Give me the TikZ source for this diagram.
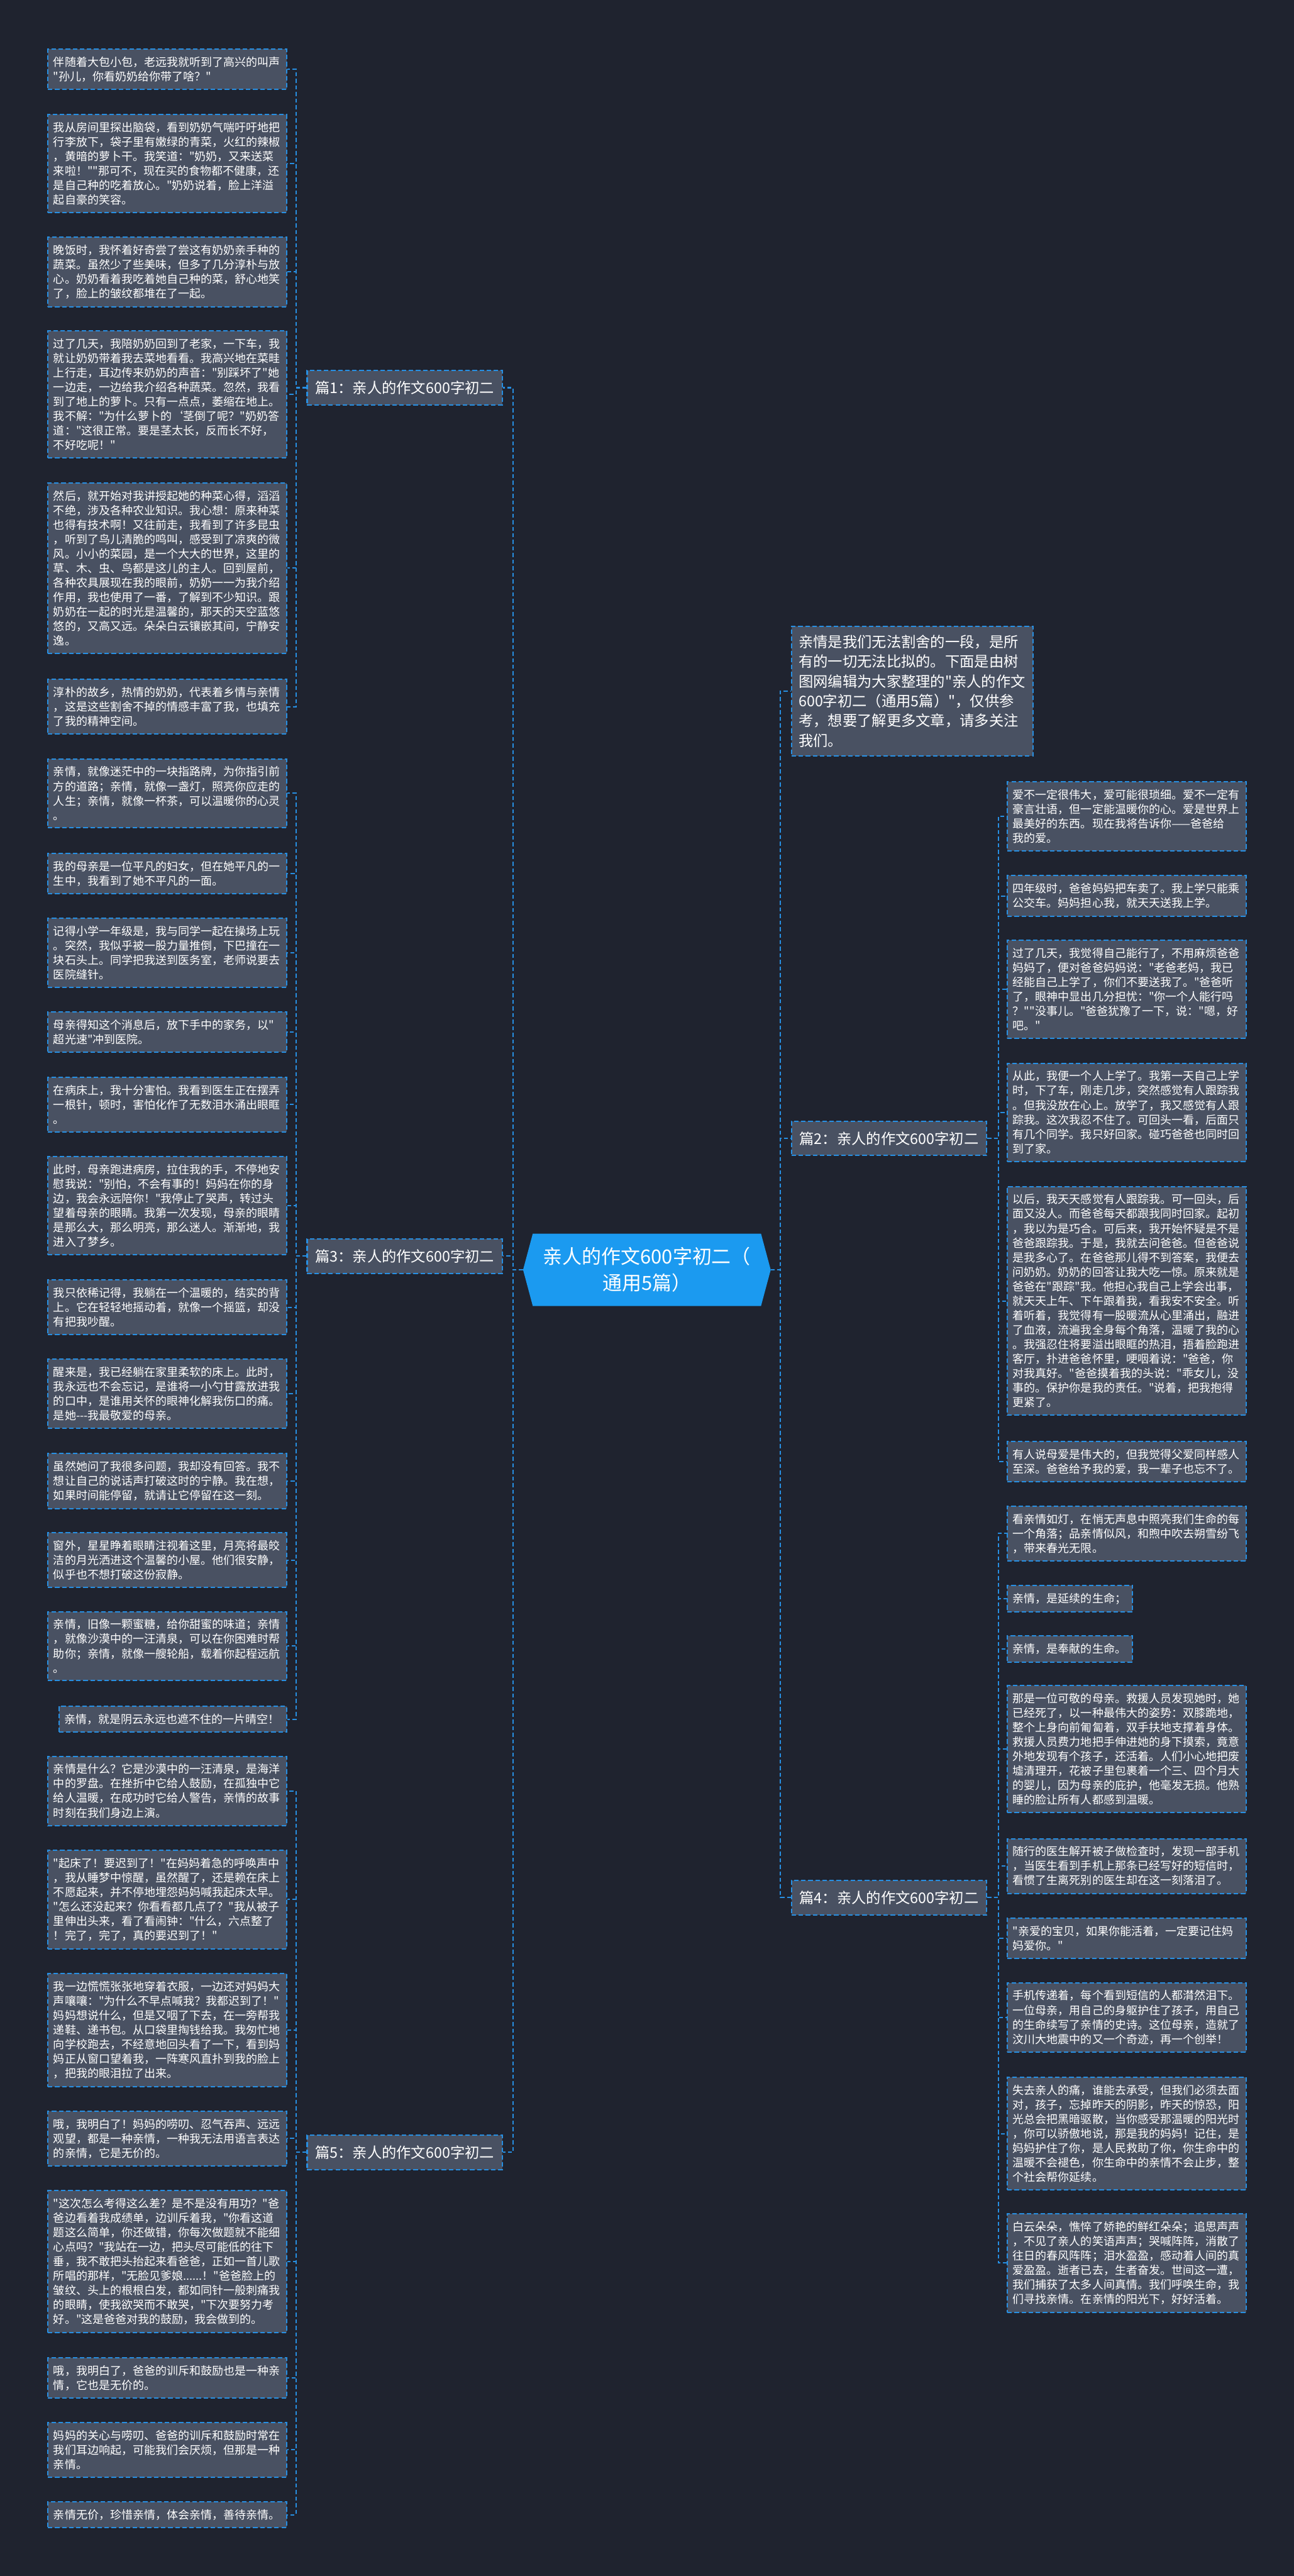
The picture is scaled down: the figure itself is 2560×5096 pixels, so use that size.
\documentclass[tikz,border=0pt]{standalone}
\usepackage{fontspec}
\newfontfamily\cjk{Noto Sans CJK SC}
\usepackage{tikz}
\definecolor{bgnavy}{RGB}{31,35,47}
\definecolor{boxgray}{RGB}{73,81,98}
\definecolor{linkblue}{RGB}{39,143,226}
\definecolor{rootblue}{RGB}{27,154,240}
\usetikzlibrary{shapes.symbols}

\begin{document}
\begin{tikzpicture}[x=1pt, y=-1pt,
    leaf/.style={draw=linkblue, fill=boxgray, line width=2.5pt,
                 dash pattern=on 9pt off 5pt, text=white, align=left,
                 text width=#1, inner xsep=11pt, inner ysep=15pt,
                 font=\cjk\fontsize{22.4pt}{28.7pt}\selectfont},
    leaf/.default=450pt,
    branch/.style={draw=linkblue, fill=boxgray, line width=2.5pt,
                   dash pattern=on 9pt off 5pt, text=white,
                   minimum width=386pt, minimum height=68pt,
                   font=\cjk\fontsize{29pt}{39pt}\selectfont},
    link/.style={draw=linkblue, line width=2.5pt, dash pattern=on 8pt off 5pt}
]
    \useasboundingbox (0,0) rectangle (2560,5096);
    \fill[bgnavy] (0,0) rectangle (2560,5096);

    \node[signal, signal to=west and east, signal pointer angle=150,
          fill=rootblue, text=white, align=center,
          minimum width=490pt, minimum height=143pt,
          font=\cjk\fontsize{38.5pt}{52.5pt}\selectfont]
          (root) at (1280,2512) {亲人的作文600字初二（\\通用5篇）};

    \node[leaf, inner xsep=14pt, inner ysep=17pt, anchor=north west,
          font=\cjk\fontsize{29pt}{39pt}\selectfont] (intro) at (1565,1238) {
        亲情是我们无法割舍的一段，是所\\有的一切无法比拟的。下面是由树\\图网编辑为大家整理的"亲人的作文\\600字初二（通用5篇）"，仅供参\\考，想要了解更多文章，请多关注\\我们。};

    \node[branch, anchor=east] (p1) at (995,767) {篇1：亲人的作文600字初二};
    \node[branch, anchor=west] (p2) at (1565,2252) {篇2：亲人的作文600字初二};
    \node[branch, anchor=east] (p3) at (995,2485) {篇3：亲人的作文600字初二};
    \node[branch, anchor=west] (p4) at (1565,3754) {篇4：亲人的作文600字初二};
    \node[branch, anchor=east] (p5) at (995,4258) {篇5：亲人的作文600字初二};

    % 篇1
    \node[leaf, anchor=north east] (p1a) at (568,96) {
        伴随着大包小包，老远我就听到了高兴的叫声\\"孙儿，你看奶奶给你带了啥？"};
    \node[leaf, anchor=north east] (p1b) at (568,225) {
        我从房间里探出脑袋，看到奶奶气喘吁吁地把\\行李放下，袋子里有嫩绿的青菜，火红的辣椒\\，黄暗的萝卜干。我笑道："奶奶，又来送菜\\来啦！""那可不，现在买的食物都不健康，还\\是自己种的吃着放心。"奶奶说着，脸上洋溢\\起自豪的笑容。};
    \node[leaf, anchor=north east] (p1c) at (568,468) {
        晚饭时，我怀着好奇尝了尝这有奶奶亲手种的\\蔬菜。虽然少了些美味，但多了几分淳朴与放\\心。奶奶看着我吃着她自己种的菜，舒心地笑\\了，脸上的皱纹都堆在了一起。};
    \node[leaf, anchor=north east] (p1d) at (568,653) {
        过了几天，我陪奶奶回到了老家，一下车，我\\就让奶奶带着我去菜地看看。我高兴地在菜畦\\上行走，耳边传来奶奶的声音："别踩坏了"她\\一边走，一边给我介绍各种蔬菜。忽然，我看\\到了地上的萝卜。只有一点点，萎缩在地上。\\我不解："为什么萝卜的‘茎倒了呢？"奶奶答\\道："这很正常。要是茎太长，反而长不好，\\不好吃呢！"};
    \node[leaf, anchor=north east] (p1e) at (568,954) {
        然后，就开始对我讲授起她的种菜心得，滔滔\\不绝，涉及各种农业知识。我心想：原来种菜\\也得有技术啊！又往前走，我看到了许多昆虫\\，听到了鸟儿清脆的鸣叫，感受到了凉爽的微\\风。小小的菜园，是一个大大的世界，这里的\\草、木、虫、鸟都是这儿的主人。回到屋前，\\各种农具展现在我的眼前，奶奶一一为我介绍\\作用，我也使用了一番，了解到不少知识。跟\\奶奶在一起的时光是温馨的，那天的天空蓝悠\\悠的，又高又远。朵朵白云镶嵌其间，宁静安\\逸。};
    \node[leaf, anchor=north east] (p1f) at (568,1343) {
        淳朴的故乡，热情的奶奶，代表着乡情与亲情\\，这是这些割舍不掉的情感丰富了我，也填充\\了我的精神空间。};

    % 篇3
    \node[leaf, anchor=north east] (p3a) at (568,1500) {
        亲情，就像迷茫中的一块指路牌，为你指引前\\方的道路；亲情，就像一盏灯，照亮你应走的\\人生；亲情，就像一杯茶，可以温暖你的心灵\\。};
    \node[leaf, anchor=north east] (p3b) at (568,1687) {
        我的母亲是一位平凡的妇女，但在她平凡的一\\生中，我看到了她不平凡的一面。};
    \node[leaf, anchor=north east] (p3c) at (568,1815) {
        记得小学一年级是，我与同学一起在操场上玩\\。突然，我似乎被一股力量推倒，下巴撞在一\\块石头上。同学把我送到医务室，老师说要去\\医院缝针。};
    \node[leaf, anchor=north east] (p3d) at (568,2001) {
        母亲得知这个消息后，放下手中的家务，以"\\超光速"冲到医院。};
    \node[leaf, anchor=north east] (p3e) at (568,2130) {
        在病床上，我十分害怕。我看到医生正在摆弄\\一根针，顿时，害怕化作了无数泪水涌出眼眶\\。};
    \node[leaf, anchor=north east] (p3f) at (568,2287) {
        此时，母亲跑进病房，拉住我的手，不停地安\\慰我说："别怕，不会有事的！妈妈在你的身\\边，我会永远陪你！"我停止了哭声，转过头\\望着母亲的眼睛。我第一次发现，母亲的眼睛\\是那么大，那么明亮，那么迷人。渐渐地，我\\进入了梦乡。};
    \node[leaf, anchor=north east] (p3g) at (568,2531) {
        我只依稀记得，我躺在一个温暖的，结实的背\\上。它在轻轻地摇动着，就像一个摇篮，却没\\有把我吵醒。};
    \node[leaf, anchor=north east] (p3h) at (568,2687) {
        醒来是，我已经躺在家里柔软的床上。此时，\\我永远也不会忘记，是谁将一小勺甘露放进我\\的口中，是谁用关怀的眼神化解我伤口的痛。\\是她-{}-{}-我最敬爱的母亲。};
    \node[leaf, anchor=north east] (p3i) at (568,2874) {
        虽然她问了我很多问题，我却没有回答。我不\\想让自己的说话声打破这时的宁静。我在想，\\如果时间能停留，就请让它停留在这一刻。};
    \node[leaf, anchor=north east] (p3j) at (568,3031) {
        窗外，星星睁着眼睛注视着这里，月亮将最皎\\洁的月光洒进这个温馨的小屋。他们很安静，\\似乎也不想打破这份寂静。};
    \node[leaf, anchor=north east] (p3k) at (568,3187) {
        亲情，旧像一颗蜜糖，给你甜蜜的味道；亲情\\，就像沙漠中的一汪清泉，可以在你困难时帮\\助你；亲情，就像一艘轮船，载着你起程远航\\。};
    \node[leaf=428pt, anchor=north east] (p3l) at (568,3374) {
        亲情，就是阴云永远也遮不住的一片晴空！};

    % 篇5
    \node[leaf, anchor=north east] (p5a) at (568,3473) {
        亲情是什么？它是沙漠中的一汪清泉，是海洋\\中的罗盘。在挫折中它给人鼓励，在孤独中它\\给人温暖，在成功时它给人警告，亲情的故事\\时刻在我们身边上演。};
    \node[leaf, anchor=north east] (p5b) at (568,3659) {
        "起床了！要迟到了！"在妈妈着急的呼唤声中\\，我从睡梦中惊醒，虽然醒了，还是赖在床上\\不愿起来，并不停地埋怨妈妈喊我起床太早。\\"怎么还没起来？你看看都几点了？"我从被子\\里伸出头来，看了看闹钟："什么，六点整了\\！完了，完了，真的要迟到了！"};
    \node[leaf, anchor=north east] (p5c) at (568,3903) {
        我一边慌慌张张地穿着衣服，一边还对妈妈大\\声嚷嚷："为什么不早点喊我？我都迟到了！"\\妈妈想说什么，但是又咽了下去，在一旁帮我\\递鞋、递书包。从口袋里掏钱给我。我匆忙地\\向学校跑去，不经意地回头看了一下，看到妈\\妈正从窗口望着我，一阵寒风直扑到我的脸上\\，把我的眼泪拉了出来。};
    \node[leaf, anchor=north east] (p5d) at (568,4175) {
        哦，我明白了！妈妈的唠叨、忍气吞声、远远\\观望，都是一种亲情，一种我无法用语言表达\\的亲情，它是无价的。};
    \node[leaf, anchor=north east] (p5e) at (568,4332) {
        "这次怎么考得这么差？是不是没有用功？"爸\\爸边看着我成绩单，边训斥着我，"你看这道\\题这么简单，你还做错，你每次做题就不能细\\心点吗？"我站在一边，把头尽可能低的往下\\垂，我不敢把头抬起来看爸爸，正如一首儿歌\\所唱的那样，"无脸见爹娘......！"爸爸脸上的\\皱纹、头上的根根白发，都如同针一般刺痛我\\的眼睛，使我欲哭而不敢哭，"下次要努力考\\好。"这是爸爸对我的鼓励，我会做到的。};
    \node[leaf, anchor=north east] (p5f) at (568,4663) {
        哦，我明白了，爸爸的训斥和鼓励也是一种亲\\情，它也是无价的。};
    \node[leaf, anchor=north east] (p5g) at (568,4791) {
        妈妈的关心与唠叨、爸爸的训斥和鼓励时常在\\我们耳边响起，可能我们会厌烦，但那是一种\\亲情。};
    \node[leaf, anchor=north east] (p5h) at (568,4948) {
        亲情无价，珍惜亲情，体会亲情，善待亲情。};

    % 篇2
    \node[leaf, anchor=north west] (p2a) at (1992,1545) {
        爱不一定很伟大，爱可能很琐细。爱不一定有\\豪言壮语，但一定能温暖你的心。爱是世界上\\最美好的东西。现在我将告诉你——爸爸给\\我的爱。};
    \node[leaf, anchor=north west] (p2b) at (1992,1731) {
        四年级时，爸爸妈妈把车卖了。我上学只能乘\\公交车。妈妈担心我，就天天送我上学。};
    \node[leaf, anchor=north west] (p2c) at (1992,1859) {
        过了几天，我觉得自己能行了，不用麻烦爸爸\\妈妈了，便对爸爸妈妈说："老爸老妈，我已\\经能自己上学了，你们不要送我了。"爸爸听\\了，眼神中显出几分担忧："你一个人能行吗\\？""没事儿。"爸爸犹豫了一下，说："嗯，好\\吧。"};
    \node[leaf, anchor=north west] (p2d) at (1992,2102) {
        从此，我便一个人上学了。我第一天自己上学\\时，下了车，刚走几步，突然感觉有人跟踪我\\。但我没放在心上。放学了，我又感觉有人跟\\踪我。这次我忍不住了。可回头一看，后面只\\有几个同学。我只好回家。碰巧爸爸也同时回\\到了家。};
    \node[leaf, anchor=north west] (p2e) at (1992,2346) {
        以后，我天天感觉有人跟踪我。可一回头，后\\面又没人。而爸爸每天都跟我同时回家。起初\\，我以为是巧合。可后来，我开始怀疑是不是\\爸爸跟踪我。于是，我就去问爸爸。但爸爸说\\是我多心了。在爸爸那儿得不到答案，我便去\\问奶奶。奶奶的回答让我大吃一惊。原来就是\\爸爸在"跟踪"我。他担心我自己上学会出事，\\就天天上午、下午跟着我，看我安不安全。听\\着听着，我觉得有一股暖流从心里涌出，融进\\了血液，流遍我全身每个角落，温暖了我的心\\。我强忍住将要溢出眼眶的热泪，捂着脸跑进\\客厅，扑进爸爸怀里，哽咽着说："爸爸，你\\对我真好。"爸爸摸着我的头说："乖女儿，没\\事的。保护你是我的责任。"说着，把我抱得\\更紧了。};
    \node[leaf, anchor=north west] (p2f) at (1992,2850) {
        有人说母爱是伟大的，但我觉得父爱同样感人\\至深。爸爸给予我的爱，我一辈子也忘不了。};

    % 篇4
    \node[leaf, anchor=north west] (p4a) at (1992,2978) {
        看亲情如灯，在悄无声息中照亮我们生命的每\\一个角落；品亲情似风，和煦中吹去朔雪纷飞\\，带来春光无限。};
    \node[leaf=226pt, anchor=north west] (p4b) at (1992,3135) {亲情，是延续的生命；};
    \node[leaf=226pt, anchor=north west] (p4c) at (1992,3235) {亲情，是奉献的生命。};
    \node[leaf, anchor=north west] (p4d) at (1992,3333) {
        那是一位可敬的母亲。救援人员发现她时，她\\已经死了，以一种最伟大的姿势：双膝跪地，\\整个上身向前匍匐着，双手扶地支撑着身体。\\救援人员费力地把手伸进她的身下摸索，竟意\\外地发现有个孩子，还活着。人们小心地把废\\墟清理开，花被子里包裹着一个三、四个月大\\的婴儿，因为母亲的庇护，他毫发无损。他熟\\睡的脸让所有人都感到温暖。};
    \node[leaf, anchor=north west] (p4e) at (1992,3636) {
        随行的医生解开被子做检查时，发现一部手机\\，当医生看到手机上那条已经写好的短信时，\\看惯了生离死别的医生却在这一刻落泪了。};
    \node[leaf, anchor=north west] (p4f) at (1992,3793) {
        "亲爱的宝贝，如果你能活着，一定要记住妈\\妈爱你。"};
    \node[leaf, anchor=north west] (p4g) at (1992,3921) {
        手机传递着，每个看到短信的人都潸然泪下。\\一位母亲，用自己的身躯护住了孩子，用自己\\的生命续写了亲情的史诗。这位母亲，造就了\\汶川大地震中的又一个奇迹，再一个创举！};
    \node[leaf, anchor=north west] (p4h) at (1992,4108) {
        失去亲人的痛，谁能去承受，但我们必须去面\\对，孩子，忘掉昨天的阴影，昨天的惊恐，阳\\光总会把黑暗驱散，当你感受那温暖的阳光时\\，你可以骄傲地说，那是我的妈妈！记住，是\\妈妈护住了你，是人民救助了你，你生命中的\\温暖不会褪色，你生命中的亲情不会止步，整\\个社会帮你延续。};
    \node[leaf, anchor=north west] (p4i) at (1992,4378) {
        白云朵朵，憔悴了娇艳的鲜红朵朵；追思声声\\，不见了亲人的笑语声声；哭喊阵阵，消散了\\往日的春风阵阵；泪水盈盈，感动着人间的真\\爱盈盈。逝者已去，生者奋发。世间这一遭，\\我们捕获了太多人间真情。我们呼唤生命，我\\们寻找亲情。在亲情的阳光下，好好活着。};

    \draw[link] (root.west) -- ++(-20,0) |- (p1.east);
    \draw[link] (root.west) -- ++(-20,0) |- (p3.east);
    \draw[link] (root.west) -- ++(-20,0) |- (p5.east);
    \draw[link] (root.east) -- ++(19,0) |- (intro.west);
    \draw[link] (root.east) -- ++(19,0) |- (p2.west);
    \draw[link] (root.east) -- ++(19,0) |- (p4.west);

    \draw[link] (p1.west) -- ++(-21,0) |- (p1a.east);
    \draw[link] (p1.west) -- ++(-21,0) |- (p1b.east);
    \draw[link] (p1.west) -- ++(-21,0) |- (p1c.east);
    \draw[link] (p1.west) -- ++(-21,0) |- (p1d.east);
    \draw[link] (p1.west) -- ++(-21,0) |- (p1e.east);
    \draw[link] (p1.west) -- ++(-21,0) |- (p1f.east);

    \draw[link] (p3.west) -- ++(-21,0) |- (p3a.east);
    \draw[link] (p3.west) -- ++(-21,0) |- (p3b.east);
    \draw[link] (p3.west) -- ++(-21,0) |- (p3c.east);
    \draw[link] (p3.west) -- ++(-21,0) |- (p3d.east);
    \draw[link] (p3.west) -- ++(-21,0) |- (p3e.east);
    \draw[link] (p3.west) -- ++(-21,0) |- (p3f.east);
    \draw[link] (p3.west) -- ++(-21,0) |- (p3g.east);
    \draw[link] (p3.west) -- ++(-21,0) |- (p3h.east);
    \draw[link] (p3.west) -- ++(-21,0) |- (p3i.east);
    \draw[link] (p3.west) -- ++(-21,0) |- (p3j.east);
    \draw[link] (p3.west) -- ++(-21,0) |- (p3k.east);
    \draw[link] (p3.west) -- ++(-21,0) |- (p3l.east);

    \draw[link] (p5.west) -- ++(-21,0) |- (p5a.east);
    \draw[link] (p5.west) -- ++(-21,0) |- (p5b.east);
    \draw[link] (p5.west) -- ++(-21,0) |- (p5c.east);
    \draw[link] (p5.west) -- ++(-21,0) |- (p5d.east);
    \draw[link] (p5.west) -- ++(-21,0) |- (p5e.east);
    \draw[link] (p5.west) -- ++(-21,0) |- (p5f.east);
    \draw[link] (p5.west) -- ++(-21,0) |- (p5g.east);
    \draw[link] (p5.west) -- ++(-21,0) |- (p5h.east);

    \draw[link] (p2.east) -- ++(22,0) |- (p2a.west);
    \draw[link] (p2.east) -- ++(22,0) |- (p2b.west);
    \draw[link] (p2.east) -- ++(22,0) |- (p2c.west);
    \draw[link] (p2.east) -- ++(22,0) |- (p2d.west);
    \draw[link] (p2.east) -- ++(22,0) |- (p2e.west);
    \draw[link] (p2.east) -- ++(22,0) |- (p2f.west);

    \draw[link] (p4.east) -- ++(22,0) |- (p4a.west);
    \draw[link] (p4.east) -- ++(22,0) |- (p4b.west);
    \draw[link] (p4.east) -- ++(22,0) |- (p4c.west);
    \draw[link] (p4.east) -- ++(22,0) |- (p4d.west);
    \draw[link] (p4.east) -- ++(22,0) |- (p4e.west);
    \draw[link] (p4.east) -- ++(22,0) |- (p4f.west);
    \draw[link] (p4.east) -- ++(22,0) |- (p4g.west);
    \draw[link] (p4.east) -- ++(22,0) |- (p4h.west);
    \draw[link] (p4.east) -- ++(22,0) |- (p4i.west);
\end{tikzpicture}
\end{document}
